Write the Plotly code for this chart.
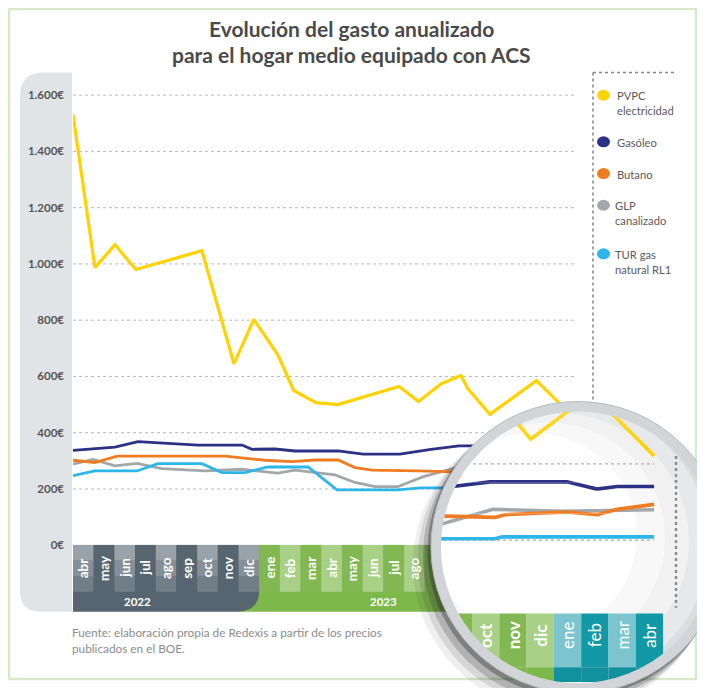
import numpy as np
import plotly.graph_objects as go

# ---------------- data ----------------
MONTHS = ["abr", "may", "jun", "jul", "ago", "sep", "oct", "nov", "dic",
          "ene", "feb", "mar", "abr", "may", "jun", "jul", "ago", "sep", "oct", "nov", "dic",
          "ene", "feb", "mar", "abr"]
MONTH_YEAR = ["2022"] * 9 + ["2023"] * 12 + ["2024"] * 4
YEAR_LABELS = ["2022", "2023"]
YEAR_LABEL_X = [3.1, 15.0]

SERIES = ["PVPC electricidad", "Gasóleo", "Butano", "GLP canalizado", "TUR gas natural RL1"]
LEGEND_TEXT = ["PVPC<br>electricidad", "Gasóleo", "Butano", "GLP<br>canalizado", "TUR gas<br>natural RL1"]

# x = months elapsed since abril 2022
pvpc_x = [0, 1.06, 2.03, 3.04, 6.23, 7.78, 8.74, 9.9, 10.67, 11.74, 12.8, 15.76, 16.7, 17.8,
          18.75, 19.08, 20.15, 22.4, 24.67]
pvpc_y = [1530, 987, 1068, 980, 1047, 645, 803, 677, 550, 507, 500, 564, 511, 574,
          603, 557, 465, 585, 421]

gasoleo_x = [0, 2.03, 3.14, 4.45, 6.04, 8.17, 8.65, 9.76, 10.73, 12.81, 14.02, 15.8, 17.3,
             18.66, 21.48, 22.58, 23.31, 24.67]
gasoleo_y = [337, 349, 368, 363, 356, 356, 341, 342, 335, 335, 324, 324, 341,
             353, 353, 334, 341, 341]

butano_x = [0, 1.06, 2.13, 7.35, 9.28, 10.58, 11.7, 12.81, 13.63, 14.45, 16.67, 17.93,
            18.84, 19.21, 21.48, 22.58, 23.31, 24.67]
butano_y = [302, 294, 317, 317, 302, 297, 303, 303, 276, 267, 264, 262,
            260, 267, 274, 267, 281, 294]

glp_x = [0, 0.97, 2.03, 3.09, 4.3, 6.38, 8.17, 9.9, 10.73, 12.66, 13.63, 14.6, 15.7,
         16.9, 18.77, 21.33, 24.67]
glp_y = [288, 305, 282, 291, 272, 264, 270, 256, 267, 250, 223, 208, 208,
         243, 281, 276, 280]

tur_x = [0, 1.06, 3.09, 4.1, 6.23, 7.2, 8.31, 9.42, 11.36, 12.76, 15.7, 16.83, 18.84,
         19.10, 24.67]
tur_y = [247, 264, 264, 290, 290, 258, 258, 278, 278, 197, 197, 204, 204,
         209, 209]

SERIES_X = [pvpc_x, gasoleo_x, butano_x, glp_x, tur_x]
SERIES_Y = [pvpc_y, gasoleo_y, butano_y, glp_y, tur_y]

TICK_VALUES = [0, 200, 400, 600, 800, 1000, 1200, 1400, 1600]
TICK_LABELS = ["0€", "200€", "400€", "600€", "800€", "1.000€", "1.200€", "1.400€", "1.600€"]

TITLE_LINES = ["Evolución del gasto anualizado", "para el hogar medio equipado con ACS"]
SOURCE_LINES = ["Fuente: elaboración propia de Redexis a partir de los precios",
                "publicados en el BOE."]

# ---------------- style ----------------
COLORS = ["#ffd200", "#2b3184", "#f07c22", "#a4a7a9", "#2cb6e9"]
DRAW_ORDER = [3, 4, 2, 1, 0]
FONT = "Lato"
CELL = {
    "2022": {"light": ["#98a2a8", "#859096", "#727e87"], "dark": ["#56656f"] * 3, "start": "light", "strip": "#56656f"},
    "2023": {"light": ["#a8d086"] * 3, "dark": ["#82b852"] * 3, "start": "dark", "strip": "#7db84a"},
    "2024": {"light": ["#7cc5cf"] * 3, "dark": ["#1398a6"] * 3, "start": "light", "strip": "#13909e"},
}

# page geometry: the page body adds an 8px margin
OFF = 8
FW, FH = 705 - OFF, 688 - OFF

PLOT_L, PLOT_R = 73, 577
ZERO_Y, TOP_Y = 550, 80
EUR_PX = 0.2838
MONTH_PX = 20.69
BAND_MID, BAND_BOT = 597, 617

# magnifier geometry (pixels) and its magnified scale
CX, CY, R = 578, 552, 147
RING_W = 10
MAG_X18, MAG_MPX = 472, 27.3
MAG_Y400, MAG_EPX = 468, 0.385
MAG_BAND_TOP, MAG_BAND_MID = 619, 673
BOX_L, BOX_R, BOX_T, BOX_B = CX - R, 705, CY - R, 688


def px(x):
    return (x - OFF) / FW


def py(y):
    return 1 - (y - OFF) / FH


def ix(p):      # magnifier pixel -> month
    return 18 + (p - MAG_X18) / MAG_MPX


def iv(q):      # magnifier pixel -> euros
    return 400 - (q - MAG_Y400) / MAG_EPX


def mx(m):      # month -> magnifier pixel
    return MAG_X18 + (m - 18) * MAG_MPX


fig = go.Figure()
shapes = []
annotations = []
axes = {}

# outer frame
shapes.append(dict(type="rect", xref="paper", yref="paper", x0=px(9), x1=px(696), y0=py(685), y1=py(9),
                   line=dict(color="#d6e9c9", width=2.5), fillcolor="rgba(0,0,0,0)", layer="below"))

# grey panel behind y labels
panel = (f"M {px(72)},{py(73)} L {px(44)},{py(73)} Q {px(20)},{py(73)} {px(20)},{py(97)} "
         f"L {px(20)},{py(597)} Q {px(20)},{py(617)} {px(40)},{py(617)} L {px(72)},{py(617)} Z")
shapes.append(dict(type="path", xref="paper", yref="paper", path=panel, fillcolor="#e1e4e7",
                   line=dict(width=0), layer="below"))

# x band: year strips
n_months = len(MONTHS)
shapes.append(dict(type="rect", xref="x", yref="paper", x0=8, x1=n_months + 1, y0=py(BAND_BOT), y1=py(ZERO_Y),
                   fillcolor=CELL["2023"]["strip"], line=dict(width=0), layer="below"))
n2022 = MONTH_YEAR.count("2022")
rr = 22
dark = (f"M 0,{py(ZERO_Y)} L {n2022},{py(ZERO_Y)} L {n2022},{py(BAND_BOT - rr)} "
        f"Q {n2022},{py(BAND_BOT)} {n2022 - rr / MONTH_PX},{py(BAND_BOT)} L 0,{py(BAND_BOT)} Z")
shapes.append(dict(type="path", xref="x", yref="paper", path=dark, fillcolor=CELL["2022"]["strip"],
                   line=dict(width=0), layer="below"))


def cell_shade(i):
    yr = MONTH_YEAR[i]
    first = MONTH_YEAR.index(yr)
    start = CELL[yr]["start"]
    other = "dark" if start == "light" else "light"
    return start if (i - first) % 2 == 0 else other


for i in range(n_months):
    cols = CELL[MONTH_YEAR[i]][cell_shade(i)]
    edges = np.linspace(ZERO_Y, BAND_MID, len(cols) + 1)
    for k, c in enumerate(cols):
        shapes.append(dict(type="rect", xref="x", yref="paper", x0=i, x1=i + 1,
                           y0=py(edges[k + 1]), y1=py(edges[k]) + 0.0005,
                           fillcolor=c, line=dict(width=0), layer="below"))

# main gridlines
for v in TICK_VALUES[1:]:
    shapes.append(dict(type="line", xref="paper", yref="y", x0=px(PLOT_L), x1=px(PLOT_R), y0=v, y1=v,
                       line=dict(color="#b8b8b8", width=1, dash="dot"), layer="below"))

# legend frame
shapes.append(dict(type="line", xref="paper", yref="paper", x0=px(593), x1=px(674), y0=py(73), y1=py(73),
                   line=dict(color="#8a8a8a", width=1.6, dash="dot"), layer="below"))
shapes.append(dict(type="line", xref="paper", yref="paper", x0=px(593), x1=px(593), y0=py(73), y1=py(620),
                   line=dict(color="#8a8a8a", width=1.6, dash="dot"), layer="below"))

# legend markers + texts
LEG_Y = [96, 143, 175, 207, 256]
LEG_TX = [615, 615, 615, 613, 613]
for k in range(len(SERIES)):
    shapes.append(dict(type="circle", xref="paper", yref="paper", x0=px(597), x1=px(610),
                       y0=py(LEG_Y[k] + 5.5), y1=py(LEG_Y[k] - 5.5),
                       fillcolor=COLORS[k], line=dict(width=0), layer="below"))
    annotations.append(dict(xref="paper", yref="paper", x=px(LEG_TX[k]), y=py(LEG_Y[k] - 8),
                            xanchor="left", yanchor="top", align="left", showarrow=False,
                            text=LEGEND_TEXT[k], font=dict(family=FONT, size=11.2, color="#5a5a5a")))

# ---------------- main lines ----------------
for k in DRAW_ORDER:
    fig.add_trace(go.Scatter(x=SERIES_X[k], y=SERIES_Y[k], mode="lines", name=SERIES[k],
                             line=dict(color=COLORS[k], width=3.2 if k == 0 else 2.8),
                             xaxis="x", yaxis="y", showlegend=False, hoverinfo="skip"))

axes["xaxis"] = dict(domain=[px(PLOT_L), px(PLOT_R)], range=[0, (PLOT_R - PLOT_L) / MONTH_PX],
                     visible=False, fixedrange=True)
axes["yaxis"] = dict(domain=[py(ZERO_Y), py(TOP_Y)], range=[0, (ZERO_Y - TOP_Y) / EUR_PX],
                     tickvals=TICK_VALUES, ticktext=TICK_LABELS, showgrid=False, zeroline=False,
                     showline=False, ticks="", ticklabelstandoff=8,
                     tickfont=dict(family=FONT, size=11.5, color="#555555", weight="bold"), fixedrange=True)

# ---------------- magnifier: lens body (axes x2/y2) ----------------
t = np.linspace(0, 2 * np.pi, 241)
GRAD = [(0, 0, 0, "#dcdddf"), (-8, -3, 8, "#e7e8e9"), (-18, -6, 18, "#f1f1f2"), (-30, -9, 30, "#f8f8f8"),
        (-44, -12, 44, "#ffffff")]
for dx, dy, dr, col in GRAD:
    cxp, cyp, rp = CX + dx, CY + dy, R - dr
    fig.add_trace(go.Scatter(x=ix(cxp + rp * np.cos(t)), y=iv(cyp + rp * np.sin(t)), mode="lines",
                             fill="toself", fillcolor=col, line=dict(width=0),
                             xaxis="x2", yaxis="y2", showlegend=False, hoverinfo="skip"))

# magnified x band, clipped to the lens
RIN = R - 3
for i in range(n_months):
    if mx(i + 1) < BOX_L or mx(i) > BOX_R:
        continue
    xs = np.linspace(i, i + 1, 40)
    arc = CY + np.sqrt(np.clip(RIN ** 2 - (mx(xs) - CX) ** 2, 0, None))
    for top, bottom, col in [(MAG_BAND_TOP, MAG_BAND_MID, CELL[MONTH_YEAR[i]][cell_shade(i)][0]),
                             (MAG_BAND_MID, BOX_B + 20, CELL[MONTH_YEAR[i]]["strip"])]:
        bot = np.clip(np.minimum(arc, bottom), top, None)
        poly_x = np.concatenate([xs, xs[::-1]])
        poly_y = np.concatenate([np.full_like(xs, iv(top)), iv(bot)[::-1]])
        fig.add_trace(go.Scatter(x=poly_x, y=poly_y, mode="lines", fill="toself", fillcolor=col,
                                 line=dict(width=0), xaxis="x2", yaxis="y2", showlegend=False,
                                 hoverinfo="skip"))
    lx, ly = mx(i + 0.5), 641
    if np.hypot(lx - CX, ly - CY) < R - RING_W - 2:
        plain = MONTH_YEAR[i] == "2024"
        annotations.append(dict(xref="x2", yref="y2", x=i + 0.5, y=iv(ly), textangle=-90, showarrow=False,
                                xanchor="center", yanchor="middle",
                                text=MONTHS[i] if plain else f"<b>{MONTHS[i]}</b>",
                                font=dict(family=FONT, size=17, color="#ffffff")))

axes["xaxis2"] = dict(domain=[px(BOX_L), px(BOX_R)], range=[ix(BOX_L), ix(BOX_R)], anchor="y2",
                      visible=False, fixedrange=True)
axes["yaxis2"] = dict(domain=[py(BOX_B), py(BOX_T)], range=[iv(BOX_B), iv(BOX_T)], anchor="x2",
                      visible=False, fixedrange=True)

# ---------------- magnifier: lines, clipped to the lens with thin strips ----------------
RC = R - RING_W / 2
TOL = 4.0


def half_chord(y):
    return np.sqrt(max(RC ** 2 - (y - CY) ** 2, 0.0))


strips = []
y_a, y_stop = CY - RC + 1, 618
while y_a < y_stop:
    y_b = y_a + 1
    while y_b + 1 <= y_stop:
        y_t = y_b + 1
        near = min(max(CY, y_a), y_t)
        if half_chord(near) - min(half_chord(y_a), half_chord(y_t)) > TOL:
            break
        y_b = y_t
    strips.append((y_a, min(y_b, y_stop)))
    y_a = y_b

last_x = max(max(s) for s in SERIES_X)
n_ax = 3
for y_a, y_b in strips:
    hw = half_chord(min(max(CY, y_a), y_b))
    xl, xr = max(BOX_L, CX - hw), min(BOX_R, CX + hw)
    xa, ya = f"x{n_ax}", f"y{n_ax}"
    for v in TICK_VALUES[1:]:
        fig.add_trace(go.Scatter(x=[ix(BOX_L), last_x], y=[v, v], mode="lines",
                                 line=dict(color="#b0b0b0", width=1.3, dash="dot"),
                                 xaxis=xa, yaxis=ya, showlegend=False, hoverinfo="skip"))
    fig.add_trace(go.Scatter(x=[ix(676), ix(676)], y=[iv(460), iv(613)], mode="lines",
                             line=dict(color="#8a8a8a", width=2.4, dash="dot"),
                             xaxis=xa, yaxis=ya, showlegend=False, hoverinfo="skip"))
    for k in DRAW_ORDER:
        fig.add_trace(go.Scatter(x=SERIES_X[k], y=SERIES_Y[k], mode="lines", name=SERIES[k],
                                 line=dict(color=COLORS[k], width=3.6),
                                 xaxis=xa, yaxis=ya, showlegend=False, hoverinfo="skip"))
    axes[f"xaxis{n_ax}"] = dict(domain=[px(xl), px(xr)], range=[ix(xl), ix(xr)], anchor=ya,
                                visible=False, fixedrange=True)
    axes[f"yaxis{n_ax}"] = dict(domain=[py(y_b), py(y_a)], range=[iv(y_b), iv(y_a)], anchor=xa,
                                visible=False, fixedrange=True)
    n_ax += 1


# lens shadow (annulus outside the lens, toward lower-left)
def shadow_path(ox, oy, rs):
    th = np.linspace(0, 2 * np.pi, 241)
    ux, uy = np.cos(th), np.sin(th)
    d = ux * ox + uy * oy
    ro = np.maximum(d + np.sqrt(d ** 2 - (ox ** 2 + oy ** 2) + rs ** 2), R)
    outer = " L ".join(f"{px(CX + r * a):.5f},{py(CY + r * b):.5f}" for r, a, b in zip(ro, ux, uy))
    inner = " L ".join(f"{px(CX + R * a):.5f},{py(CY + R * b):.5f}" for a, b in zip(ux[::-1], uy[::-1]))
    return f"M {outer} Z M {inner} Z"


for ox, oy, rs, a in [(-15, 17, R + 3, 0.07), (-11, 13, R + 2, 0.12), (-7, 9, R + 1, 0.2),
                      (-3, 4, R + 0.5, 0.35)]:
    shapes.append(dict(type="path", xref="paper", yref="paper", path=shadow_path(ox, oy, rs),
                       fillcolor=f"rgba(35,35,35,{a})", line=dict(width=0), layer="above"))

# lens ring
shapes.append(dict(type="circle", xref="paper", yref="paper",
                   x0=px(CX - RC), x1=px(CX + RC), y0=py(CY + RC), y1=py(CY - RC),
                   line=dict(color="#d1d5d8", width=RING_W), fillcolor="rgba(0,0,0,0)", layer="above"))
shapes.append(dict(type="circle", xref="paper", yref="paper",
                   x0=px(CX - R), x1=px(CX + R), y0=py(CY + R), y1=py(CY - R),
                   line=dict(color="#b7bcc0", width=1), fillcolor="rgba(0,0,0,0)", layer="above"))

# ---------------- texts ----------------
for txt, yy in zip(TITLE_LINES, [29, 55]):
    annotations.append(dict(xref="paper", yref="paper", x=px(351), y=py(yy), showarrow=False,
                            xanchor="center", yanchor="middle",
                            text=f"<b>{txt}</b>", font=dict(family=FONT, size=21, color="#4a4a4a")))
for txt, yy in zip(SOURCE_LINES, [638, 654]):
    annotations.append(dict(xref="paper", yref="paper", x=px(70), y=py(yy), xanchor="left", yanchor="middle",
                            showarrow=False, text=txt, font=dict(family=FONT, size=11.8, color="#8c8c8c")))

for i, m in enumerate(MONTHS):
    cxm = PLOT_L + MONTH_PX * (i + 0.5)
    if np.hypot(cxm - CX, 573 - CY) < R + 8 or cxm > PLOT_R:
        continue
    annotations.append(dict(xref="x", yref="paper", x=i + 0.5, y=py(573), textangle=-90, showarrow=False,
                            xanchor="center", yanchor="middle",
                            text=f"<b>{m}</b>", font=dict(family=FONT, size=13.5, color="#ffffff")))
for lab, xl in zip(YEAR_LABELS, YEAR_LABEL_X):
    annotations.append(dict(xref="x", yref="paper", x=xl, y=py(607), showarrow=False,
                            xanchor="center", yanchor="middle",
                            text=f"<b>{lab}</b>", font=dict(family=FONT, size=11.5, color="#ffffff")))

fig.update_layout(
    width=FW, height=FH, margin=dict(l=0, r=0, t=0, b=0),
    paper_bgcolor="#ffffff", plot_bgcolor="rgba(0,0,0,0)",
    showlegend=False, shapes=shapes, annotations=annotations, **axes,
)

fig.write_html("out.html")
